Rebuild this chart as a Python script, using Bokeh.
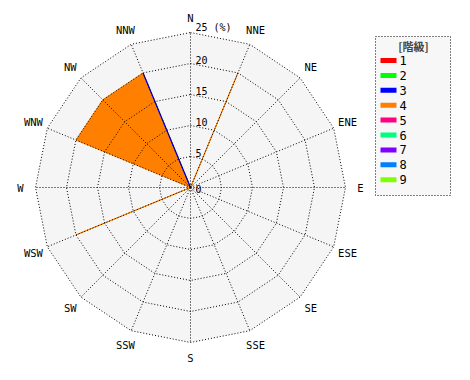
import numpy as np
from bokeh.plotting import figure
from bokeh.models import Range1d
from bokeh.core.properties import value
from bokeh.embed import file_html
from bokeh.resources import INLINE

# ---- data ----
directions = ["N", "NNE", "NE", "ENE", "E", "ESE", "SE", "SSE",
              "S", "SSW", "SW", "WSW", "W", "WNW", "NW", "NNW"]
ring_values = [5, 10, 15, 20, 25]
ring_labels = ["5", "10", "15", "20", "25 (%)"]
classes = ["1", "2", "3", "4", "5", "6", "7", "8", "9"]
class_colors = ["#ff0000", "#00ff00", "#0000ff", "#ff8000", "#ff0080",
                "#00ff80", "#8000ff", "#0080ff", "#80ff00"]
class_1 = [0, 0, 0, 0, 0, 0, 0, 0, 0, 0, 0, 0, 0, 0, 0, 0]
class_2 = [0, 0, 0, 0, 0, 0, 0, 0, 0, 0, 0, 0, 0, 0, 0, 0]
class_3 = [0, 0, 0, 0, 0, 0, 0, 0, 0, 0, 0, 0, 0, 0, 0, 20]
class_4 = [0, 20, 0, 0, 0, 0, 0, 0, 0, 0, 0, 20, 0, 20, 20, 20]
class_5 = [0, 0, 0, 0, 0, 0, 0, 0, 0, 0, 0, 0, 0, 0, 0, 0]
class_6 = [0, 0, 0, 0, 0, 0, 0, 0, 0, 0, 0, 0, 0, 0, 0, 0]
class_7 = [0, 0, 0, 0, 0, 0, 0, 0, 0, 0, 0, 0, 0, 0, 0, 0]
class_8 = [0, 0, 0, 0, 0, 0, 0, 0, 0, 0, 0, 0, 0, 0, 0, 0]
class_9 = [0, 0, 0, 0, 0, 0, 0, 0, 0, 0, 0, 0, 0, 0, 0, 0]
series = [class_1, class_2, class_3, class_4, class_5,
          class_6, class_7, class_8, class_9]

# ---- layout (pixels) ----
W, H = 470, 380
CX, CY = 190, 187
SCALE = 6.2  # px per %
RMAX = 25


def px(x, y):
    return (x - CX) / SCALE, (CY - y) / SCALE


ang = np.deg2rad(90 - 22.5 * np.arange(16))


def polar(vals):
    v = np.asarray(vals, dtype=float)
    return list(v * np.cos(ang)), list(v * np.sin(ang))


p = figure(width=W, height=H, output_backend="svg", toolbar_location=None,
           x_range=Range1d(-CX / SCALE, (W - CX) / SCALE),
           y_range=Range1d(-(H - CY) / SCALE, CY / SCALE),
           min_border=0, outline_line_color=None)
p.axis.visible = False
p.grid.visible = False
p.background_fill_color = "white"
p.border_fill_color = "white"

# background polygon
bx, by = polar([RMAX] * 16)
p.patch(bx, by, fill_color="#f5f5f5", line_color=None)

# series polygons
order = [3, 0, 1, 2, 4, 5, 6, 7, 8]
for i in order:
    vals = series[i]
    if not any(v > 0 for v in vals):
        continue
    xs, ys = polar(vals)
    lw = 1.3 if i == 2 else 1
    p.patch(xs, ys, fill_color=class_colors[i], line_color=class_colors[i],
            line_width=lw)

# rings
for r in ring_values:
    xs, ys = polar([r] * 16)
    p.line(xs + [xs[0]], ys + [ys[0]], line_color="black", line_dash="1 2",
           line_width=1)
# spokes
sx, sy = polar([RMAX] * 16)
p.segment(x0=[0] * 16, y0=[0] * 16, x1=sx, y1=sy, line_color="black",
          line_dash="1 2", line_width=1)

mono = value("DejaVu Sans Mono")

# ring labels
p.text(x=[5 / SCALE] * 5, y=ring_values, text=ring_labels, text_font=mono,
       text_font_size="10px", text_align="left", text_baseline="bottom",
       text_color="black")
p.text(x=[5 / SCALE], y=[-1 / SCALE], text=["0"], text_font=mono,
       text_font_size="10px", text_align="left", text_baseline="middle",
       text_color="black")

# direction labels
LR = 170 / SCALE
dx, dy = list(LR * np.cos(ang)), list(LR * np.sin(ang))
p.text(x=dx, y=dy, text=directions, text_font=mono, text_font_size="10.5px",
       text_align="center", text_baseline="middle", text_color="black")

# legend
lx0, ly0 = px(375, 36)
lx1, ly1 = px(450, 195)
p.patch([lx0, lx1, lx1, lx0], [ly0, ly0, ly1, ly1], fill_color="#f7f7f7",
        line_color="black", line_dash="1 2", line_width=1)
tx, ty = px(413, 45)
p.text(x=[tx], y=[ty], text=["[階級]"], text_font=value("Noto Sans CJK JP"),
       text_font_size="11px", text_font_style="bold", text_align="center",
       text_baseline="middle", text_color="#444444")
for k, (name, col) in enumerate(zip(classes, class_colors)):
    yy = 60 + 14.9 * k
    x0, y0 = px(380, yy)
    x1, _ = px(396, yy)
    p.segment(x0=[x0], y0=[y0], x1=[x1], y1=[y0], line_color=col,
              line_width=5)
    xt, _ = px(399, yy)
    p.text(x=[xt], y=[y0], text=[name], text_font=mono, text_font_size="12px",
           text_align="left", text_baseline="middle", text_color="black")

open("out.html", "w").write(file_html(p, INLINE))
